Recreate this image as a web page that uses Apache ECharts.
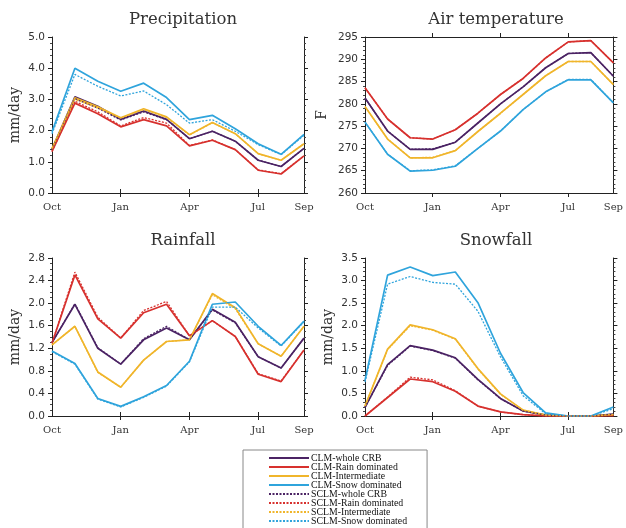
<!DOCTYPE html>
<html>
<head>
<meta charset="utf-8">
<script src="https://cdn.jsdelivr.net/npm/echarts@6/dist/echarts.min.js"></script>
<style>
  html, body { margin: 0; padding: 0; background: #fff; }
  #chart { width: 626px; height: 528px; }
</style>
</head>
<body>
<div id="chart"></div>
<script>
const months = ["Oct", "Nov", "Dec", "Jan", "Feb", "Mar", "Apr", "May", "Jun", "Jul", "Aug", "Sep"];
const shownMonths = [0, 3, 6, 9, 11];
const names = [
  "CLM-whole CRB", "CLM-Rain dominated", "CLM-Intermediate", "CLM-Snow dominated",
  "SCLM-whole CRB", "SCLM-Rain dominated", "SCLM-Intermediate", "SCLM-Snow dominated"
];
const colors = ["#4b2364", "#d7312e", "#f0b52b", "#2fa4dc"];

// Precipitation (mm/day)
const precipClmWhole = [1.40, 3.08, 2.78, 2.36, 2.63, 2.36, 1.74, 1.98, 1.66, 1.05, 0.85, 1.43];
const precipClmRain = [1.33, 2.88, 2.54, 2.12, 2.35, 2.15, 1.51, 1.69, 1.39, 0.73, 0.61, 1.19];
const precipClmInter = [1.42, 3.05, 2.76, 2.41, 2.70, 2.44, 1.87, 2.26, 1.90, 1.26, 1.05, 1.58];
const precipClmSnow = [1.96, 4.00, 3.58, 3.26, 3.52, 3.06, 2.35, 2.49, 2.06, 1.58, 1.24, 1.88];
const precipSclmWhole = [1.40, 3.02, 2.72, 2.34, 2.60, 2.35, 1.74, 1.98, 1.66, 1.05, 0.85, 1.43];
const precipSclmRain = [1.33, 2.94, 2.60, 2.15, 2.42, 2.24, 1.52, 1.70, 1.39, 0.74, 0.62, 1.19];
const precipSclmInter = [1.42, 3.00, 2.72, 2.40, 2.67, 2.42, 1.86, 2.25, 1.90, 1.26, 1.05, 1.58];
const precipSclmSnow = [1.90, 3.80, 3.42, 3.11, 3.27, 2.83, 2.24, 2.35, 1.98, 1.55, 1.23, 1.85];

// Air temperature (K)
const tempClmWhole = [281.3, 273.9, 269.8, 269.8, 271.4, 275.7, 280.0, 283.8, 288.1, 291.3, 291.5, 286.2];
const tempClmRain = [283.6, 276.6, 272.4, 272.1, 274.2, 277.9, 282.1, 285.7, 290.3, 293.9, 294.2, 289.2];
const tempClmInter = [279.4, 272.1, 267.9, 267.9, 269.5, 273.8, 277.9, 282.1, 286.3, 289.5, 289.5, 284.3];
const tempClmSnow = [275.9, 268.7, 264.9, 265.1, 266.0, 270.0, 273.9, 278.7, 282.7, 285.4, 285.4, 280.2];
const tempSclmWhole = [281.3, 273.9, 269.8, 269.9, 271.4, 275.7, 280.0, 283.8, 288.1, 291.3, 291.5, 286.2];
const tempSclmRain = [283.6, 276.6, 272.4, 272.1, 274.2, 277.9, 282.1, 285.7, 290.3, 293.9, 294.2, 289.2];
const tempSclmInter = [279.4, 272.1, 267.9, 268.0, 269.5, 273.8, 277.9, 282.1, 286.3, 289.5, 289.5, 284.3];
const tempSclmSnow = [275.9, 268.7, 265.0, 265.2, 266.1, 270.0, 273.9, 278.7, 282.7, 285.5, 285.5, 280.2];

// Rainfall (mm/day)
const rainClmWhole = [1.30, 1.98, 1.20, 0.92, 1.35, 1.56, 1.35, 1.89, 1.66, 1.05, 0.85, 1.38];
const rainClmRain = [1.29, 2.50, 1.72, 1.38, 1.83, 1.98, 1.42, 1.69, 1.41, 0.74, 0.61, 1.17];
const rainClmInter = [1.26, 1.59, 0.78, 0.51, 0.99, 1.32, 1.35, 2.17, 1.92, 1.28, 1.06, 1.59];
const rainClmSnow = [1.15, 0.93, 0.31, 0.17, 0.34, 0.54, 0.97, 1.98, 2.02, 1.59, 1.25, 1.68];
const rainSclmWhole = [1.30, 1.99, 1.21, 0.92, 1.37, 1.59, 1.35, 1.88, 1.65, 1.05, 0.85, 1.38];
const rainSclmRain = [1.29, 2.55, 1.75, 1.38, 1.87, 2.03, 1.42, 1.69, 1.41, 0.75, 0.62, 1.17];
const rainSclmInter = [1.26, 1.59, 0.77, 0.51, 0.99, 1.32, 1.35, 2.15, 1.90, 1.28, 1.06, 1.59];
const rainSclmSnow = [1.14, 0.92, 0.30, 0.16, 0.33, 0.53, 0.96, 1.93, 1.93, 1.56, 1.24, 1.67];

// Snowfall (mm/day)
const snowClmWhole = [0.19, 1.14, 1.56, 1.46, 1.29, 0.81, 0.39, 0.11, 0.02, 0, 0, 0.04];
const snowClmRain = [0.00, 0.41, 0.82, 0.76, 0.55, 0.22, 0.09, 0.03, 0, 0, 0, 0.01];
const snowClmInter = [0.22, 1.48, 2.02, 1.91, 1.71, 1.05, 0.49, 0.13, 0.02, 0, 0, 0.03];
const snowClmSnow = [0.79, 3.12, 3.30, 3.11, 3.19, 2.51, 1.39, 0.52, 0.07, 0, 0, 0.20];
const snowSclmWhole = [0.19, 1.12, 1.55, 1.45, 1.28, 0.80, 0.38, 0.11, 0.02, 0, 0, 0.04];
const snowSclmRain = [0.00, 0.42, 0.86, 0.80, 0.56, 0.22, 0.09, 0.03, 0, 0, 0, 0.01];
const snowSclmInter = [0.22, 1.47, 2.00, 1.90, 1.70, 1.04, 0.48, 0.13, 0.02, 0, 0, 0.03];
const snowSclmSnow = [0.75, 2.92, 3.09, 2.96, 2.92, 2.32, 1.31, 0.45, 0.05, 0, 0, 0.16];

const panels = [
  { title: "Precipitation", yName: "mm/day", min: 0, max: 5, interval: 1, digits: 1, minorSplit: 5,
    data: [precipClmWhole, precipClmRain, precipClmInter, precipClmSnow,
           precipSclmWhole, precipSclmRain, precipSclmInter, precipSclmSnow] },
  { title: "Air temperature", yName: "F", min: 260, max: 295, interval: 5, digits: 0, minorSplit: 5,
    data: [tempClmWhole, tempClmRain, tempClmInter, tempClmSnow,
           tempSclmWhole, tempSclmRain, tempSclmInter, tempSclmSnow] },
  { title: "Rainfall", yName: "mm/day", min: 0, max: 2.8, interval: 0.4, digits: 1, minorSplit: 4,
    data: [rainClmWhole, rainClmRain, rainClmInter, rainClmSnow,
           rainSclmWhole, rainSclmRain, rainSclmInter, rainSclmSnow] },
  { title: "Snowfall", yName: "mm/day", min: 0, max: 3.5, interval: 0.5, digits: 1, minorSplit: 5,
    data: [snowClmWhole, snowClmRain, snowClmInter, snowClmSnow,
           snowSclmWhole, snowSclmRain, snowSclmInter, snowSclmSnow] }
];

const gridPos = [
  { left: 52, top: 37, width: 252, height: 156 },
  { left: 365, top: 37, width: 252, height: 156 },
  { left: 52, top: 258, width: 252, height: 158 },
  { left: 365, top: 258, width: 252, height: 158 }
];
const yNameGap = [30, 36, 30, 30];

const axisLine = { show: true, lineStyle: { color: "#222", width: 1 } };
const grids = [], xAxes = [], yAxes = [], titles = [], series = [];

panels.forEach((p, i) => {
  const g = gridPos[i];
  grids.push(g);
  titles.push({
    text: p.title,
    left: g.left + g.width / 2,
    top: g.top - 31,
    textAlign: "center",
    textStyle: { fontFamily: "DejaVu Serif", fontSize: 16.5, fontWeight: "normal", color: "#333" }
  });
  // bottom x axis
  xAxes.push({
    gridIndex: i, type: "category", data: months, boundaryGap: false, position: "bottom",
    axisLine: axisLine,
    axisTick: { show: true, length: 4, lineStyle: { color: "#222" },
      interval: (idx) => idx === 3 || idx === 6 || idx === 9 },
    axisLabel: { margin: 9, fontFamily: "DejaVu Serif", fontSize: 10, color: "#333",
      interval: (idx) => shownMonths.indexOf(idx) >= 0 },
    splitLine: { show: false }
  });
  // top x axis (frame)
  xAxes.push({
    gridIndex: i, type: "category", data: months, boundaryGap: false, position: "top",
    axisLine: axisLine,
    axisTick: { show: true, length: 4, lineStyle: { color: "#222" },
      interval: (idx) => idx === 3 || idx === 6 || idx === 9 },
    axisLabel: { show: false },
    splitLine: { show: false }
  });
  const yBase = {
    gridIndex: i, type: "value", min: p.min, max: p.max, interval: p.interval,
    axisLine: axisLine,
    axisTick: { show: true, length: 4, lineStyle: { color: "#222" } },
    minorTick: { show: true, splitNumber: p.minorSplit, length: 2, lineStyle: { color: "#444" } },
    splitLine: { show: false }
  };
  yAxes.push(Object.assign({}, yBase, {
    position: "left",
    name: p.yName, nameLocation: "middle", nameGap: yNameGap[i], nameRotate: 90,
    nameTextStyle: { fontFamily: "DejaVu Serif", fontSize: 14, color: "#333" },
    axisLabel: { margin: 7, fontFamily: "DejaVu Sans", fontSize: 10.5, color: "#333",
      formatter: (v) => v.toFixed(p.digits) }
  }));
  yAxes.push(Object.assign({}, yBase, { position: "right", axisLabel: { show: false } }));

  p.data.forEach((arr, k) => {
    const dashed = k >= 4;
    series.push({
      name: names[k],
      type: "line",
      xAxisIndex: 2 * i,
      yAxisIndex: 2 * i,
      data: arr,
      symbol: "none",
      z: dashed ? 3 : 2,
      lineStyle: {
        color: colors[k % 4],
        width: dashed ? 1.3 : 1.7,
        type: dashed ? [2, 1.5] : "solid"
      },
      itemStyle: { color: colors[k % 4] }
    });
  });
});

const chart = echarts.init(document.getElementById("chart"));
chart.setOption({
  backgroundColor: "#fff",
  animation: false,
  title: titles,
  grid: grids,
  xAxis: xAxes,
  yAxis: yAxes,
  legend: {
    data: names,
    orient: "vertical",
    left: 243,
    top: 450,
    height: 120,
    padding: [3, 20, 10, 25],
    itemWidth: 40,
    itemHeight: 8,
    itemGap: -1,
    itemStyle: { opacity: 0 },
    borderColor: "#888",
    borderWidth: 1,
    textStyle: { fontFamily: "Liberation Serif", fontSize: 9.8, color: "#111",
      padding: [0, 0, 0, -3] }
  },
  series: series
});
</script>
</body>
</html>
